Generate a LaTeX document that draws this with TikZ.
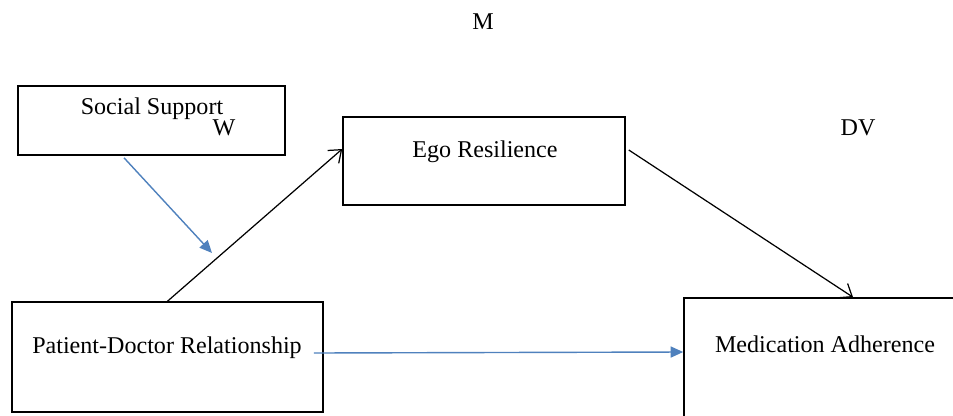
\documentclass[tikz,border=0pt]{standalone}
\usepackage{fontspec}
\setmainfont{Liberation Serif}
\usepackage{xcolor}
\usepackage{tikz}
\usetikzlibrary{arrows.meta}
\definecolor{linkblue}{RGB}{79,129,189}

\begin{document}
\begin{tikzpicture}[
    box/.style={draw, line width=0.9pt, rectangle, inner sep=0pt},
    txt/.style={anchor=base, inner sep=0pt, font=\fontsize{13.7}{16}\selectfont},
    blackarrow/.style={-{Straight Barb[length=2.2mm,width=3.4mm]}, line width=0.7pt},
    bluearrow/.style={-{Triangle[length=2.5mm,width=2.2mm]}, line width=0.8pt, color=linkblue}
]
    \useasboundingbox (0,0) rectangle (19.06,8.3);
    \clip (0,0) rectangle (19.06,8.3);
    % Boxes
    \node[box, minimum width=5.34cm, minimum height=1.38cm] (ss) at (3.03, 5.89) {};
    \node[box, minimum width=5.64cm, minimum height=1.76cm] (ego) at (9.68, 5.08) {};
    \node[box, minimum width=6.22cm, minimum height=2.2cm] (pdr) at (3.35, 1.16) {};
    \node[box, minimum width=5.72cm, minimum height=2.64cm] (ma) at (16.54, 1.02) {};
    % Labels
    \node[txt] (sstext) at (3.04, 6.02) {Social Support};
    \node[txt] (wtext) at (4.48, 5.6) {W};
    \node[txt] (egotext) at (9.7, 5.16) {Ego Resilience};
    \node[txt] (pdrtext) at (3.34, 1.24) {Patient-Doctor Relationship};
    \node[txt] (matext) at (16.5, 1.25) {Medication Adherence};
    \node[txt] (mtext) at (9.66, 7.72) {M};
    \node[txt] (dvtext) at (17.16, 5.6) {DV};
    % Arrows
    \draw[blackarrow] (pdr.north) -- ([yshift=2.4mm]ego.west);
    \draw[blackarrow] ([xshift=0.6mm,yshift=2.2mm]ego.east) -- ([xshift=5.2mm]ma.north);
    \coordinate (mod) at (4.24, 3.24);
    \draw[bluearrow] ([xshift=-5.5mm,yshift=-0.4mm]ss.south) -- (mod);
    \draw[bluearrow] ([xshift=-2mm,yshift=0.8mm]pdr.east) -- ([yshift=2.4mm]ma.west);
\end{tikzpicture}
\end{document}
